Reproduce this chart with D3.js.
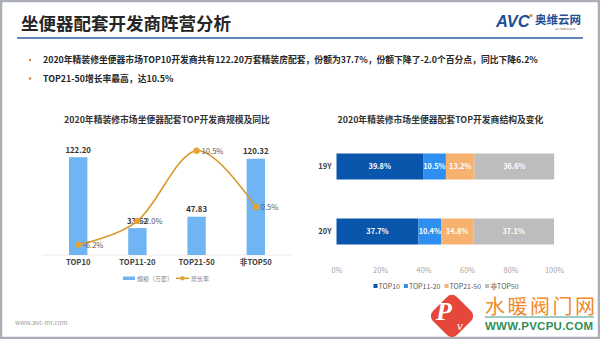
<!DOCTYPE html>
<html><head><meta charset="utf-8">
<script src="https://cdn.jsdelivr.net/npm/d3@7"></script>
<style>
body{margin:0;background:#fff}
svg{display:block;font-family:"Noto Sans CJK SC","Noto Sans",sans-serif}
</style>
</head><body><svg id="c" width="600" height="339"></svg>
<script>
// ---------- data ----------
const pageTitle = "坐便器配套开发商阵营分析";
const bullets = [
  "2020年精装修坐便器市场TOP10开发商共有122.20万套精装房配套，份额为37.7%，份额下降了-2.0个百分点，同比下降6.2%",
  "TOP21-50增长率最高，达10.5%"
];
const leftTitle = "2020年精装修市场坐便器配套TOP开发商规模及同比";
const categories = ["TOP10", "TOP11-20", "TOP21-50", "非TOP50"];
const scaleValues = [122.20, 33.62, 47.83, 120.32];
const scaleLabels = ["122.20", "33.62", "47.83", "120.32"];
const growthRates = [-6.2, -2.0, 10.5, 0.5];
const growthLabels = ["-6.2%", "-2.0%", "10.5%", "0.5%"];
const leftLegend = ["规模（万套）", "增长率"];
const rightTitle = "2020年精装修市场坐便器配套TOP开发商结构及变化";
const years = ["19Y", "20Y"];
const segments = ["TOP10", "TOP11-20", "TOP21-50", "非TOP50"];
const share19 = [39.8, 10.5, 13.2, 36.6];
const share20 = [37.7, 10.4, 14.8, 37.1];
const xTicks = [0, 20, 40, 60, 80, 100];
const footer = "www.avc-mr.com";

// ---------- setup ----------
const svg = d3.select("#c");
const CJK = '"Noto Sans CJK SC","Noto Sans",sans-serif';

// frame
svg.append("rect").attr("x", 1).attr("y", 1).attr("width", 598).attr("height", 337)
  .attr("fill", "#fff").attr("stroke", "#a9aeb7").attr("stroke-width", 2.5);

// page title
svg.append("text").attr("x", 21).attr("y", 30).text(pageTitle)
  .attr("font-size", 17.5).attr("font-weight", 700).attr("fill", "#262626");
svg.append("line").attr("x1", 17).attr("x2", 583).attr("y1", 38).attr("y2", 38)
  .attr("stroke", "#2b5f9c").attr("stroke-width", 1.6);

// AVC logo
svg.append("text").attr("x", 496).attr("y", 27).text("AVC")
  .attr("font-family", "Liberation Sans, Arial, sans-serif").attr("font-size", 16.5)
  .attr("font-weight", 700).attr("font-style", "italic").attr("fill", "#1e4f95");
svg.append("circle").attr("cx", 531).attr("cy", 15.5).attr("r", 1.6).attr("fill", "#f08a1c");
svg.append("text").attr("x", 535).attr("y", 24).text("奥维云网")
  .attr("font-size", 11.5).attr("font-weight", 700).attr("fill", "#1e4f95");
svg.append("text").attr("x", 555).attr("y", 30).text("ALL VIEW CLOUD")
  .attr("font-size", 2.6).attr("fill", "#555");

// bullets
bullets.forEach((b, i) => {
  const y = 63 + i * 18.5;
  svg.append("circle").attr("cx", 30).attr("cy", y - 3).attr("r", 1.2).attr("fill", "#e07a55");
  svg.append("text").attr("x", 43).attr("y", y).text(b)
    .attr("font-size", 8.8).attr("font-weight", 700).attr("fill", "#262626");
});

// ---------- left chart ----------
svg.append("text").attr("x", 167).attr("y", 123).attr("text-anchor", "middle").text(leftTitle)
  .attr("font-size", 8.8).attr("font-weight", 700).attr("fill", "#333");

const xL = d3.scaleBand().domain(categories).range([48.6, 285.4])
  .paddingInner(0.69).paddingOuter(0.345);
const yBar = d3.scaleLinear().domain([0, 140]).range([255, 143]);
const yLine = d3.scaleLinear().domain([-8, 12]).range([254.8, 142.2]);

svg.append("line").attr("x1", 42).attr("x2", 292).attr("y1", yBar(0)).attr("y2", yBar(0))
  .attr("stroke", "#ececec").attr("stroke-width", 1);

const gL = svg.append("g");
gL.selectAll("rect.bar").data(categories).join("rect").attr("class", "bar")
  .attr("x", d => xL(d)).attr("width", xL.bandwidth())
  .attr("y", (d, i) => yBar(scaleValues[i]))
  .attr("height", (d, i) => yBar(0) - yBar(scaleValues[i]))
  .attr("fill", "#6fb5f3");

gL.selectAll("text.val").data(categories).join("text").attr("class", "val")
  .attr("x", d => xL(d) + xL.bandwidth() / 2)
  .attr("y", (d, i) => yBar(scaleValues[i]) - 4.5)
  .attr("text-anchor", "middle").text((d, i) => scaleLabels[i])
  .attr("font-size", 7.8).attr("font-weight", 700).attr("fill", "#333");

// x axis labels
const axL = d3.axisBottom(xL).tickSize(0).tickPadding(5);
const axLg = svg.append("g").attr("transform", `translate(0,${yBar(0)})`).call(axL);
axLg.select(".domain").remove();
axLg.selectAll("text").attr("font-size", 7.6).attr("font-weight", 700).attr("fill", "#404040")
  .attr("font-family", CJK);

// growth line
const pts = categories.map((c, i) => [xL(c) + xL.bandwidth() / 2, yLine(growthRates[i])]);
const lineGen = d3.line().curve(d3.curveCardinal.tension(0));
gL.append("path").attr("d", lineGen(pts)).attr("fill", "none")
  .attr("stroke", "#d9992b").attr("stroke-width", 1.6);
gL.selectAll("circle.pt").data(pts).join("circle").attr("class", "pt")
  .attr("cx", d => d[0]).attr("cy", d => d[1]).attr("r", 3.2).attr("fill", "#e8a23a");
gL.selectAll("text.gr").data(pts).join("text").attr("class", "gr")
  .attr("x", d => d[0] + 5).attr("y", d => d[1] + 3)
  .text((d, i) => growthLabels[i])
  .attr("font-size", 7.6).attr("fill", "#595959");

// left legend
const lg = svg.append("g");
lg.append("rect").attr("x", 123).attr("y", 276.5).attr("width", 12).attr("height", 3.5).attr("fill", "#6fb5f3");
lg.append("text").attr("x", 137).attr("y", 280.6).text(leftLegend[0]).attr("font-size", 6).attr("fill", "#7f7f7f");
lg.append("line").attr("x1", 176).attr("x2", 189).attr("y1", 278.3).attr("y2", 278.3)
  .attr("stroke", "#d9992b").attr("stroke-width", 1.5);
lg.append("circle").attr("cx", 182.5).attr("cy", 278.3).attr("r", 2.2).attr("fill", "#e8a23a");
lg.append("text").attr("x", 191).attr("y", 280.6).text(leftLegend[1]).attr("font-size", 6).attr("fill", "#7f7f7f");

// ---------- right chart ----------
svg.append("text").attr("x", 440.5).attr("y", 123).attr("text-anchor", "middle").text(rightTitle)
  .attr("font-size", 8.8).attr("font-weight", 700).attr("fill", "#333");

const xR = d3.scaleLinear().domain([0, 100]).range([336.5, 554]);
const yR = d3.scaleBand().domain(years).range([134, 264]).paddingInner(0.6).paddingOuter(0.3);
const colors = d3.scaleOrdinal().domain(segments).range(["#0b56ad", "#2f8ff0", "#f6b26e", "#bdbdbd"]);

const shares = { "19Y": share19, "20Y": share20 };
const stackRows = years.map(y => {
  let acc = 0;
  return shares[y].map((v, i) => { const s = acc; acc += v; return { year: y, seg: segments[i], v, x0: s, x1: acc }; });
});
const gR = svg.append("g");
stackRows.forEach(row => {
  gR.selectAll(null).data(row).join("rect")
    .attr("x", d => xR(d.x0)).attr("width", d => xR(d.x1) - xR(d.x0))
    .attr("y", d => yR(d.year)).attr("height", yR.bandwidth())
    .attr("fill", d => colors(d.seg));
  gR.selectAll(null).data(row).join("text")
    .attr("x", d => (xR(d.x0) + xR(d.x1)) / 2).attr("y", d => yR(d.year) + yR.bandwidth() / 2 + 2.8)
    .attr("text-anchor", "middle").text(d => d.v.toFixed(1) + "%")
    .attr("font-size", 7.3).attr("font-weight", 700).attr("fill", "#fff");
});

const axY = d3.axisLeft(yR).tickSize(0).tickPadding(5);
const axYg = svg.append("g").attr("transform", `translate(${xR(0)},0)`).call(axY);
axYg.select(".domain").remove();
axYg.selectAll("text").attr("font-size", 7.5).attr("font-weight", 700).attr("fill", "#404040")
  .attr("font-family", CJK);

const axX = d3.axisBottom(xR).tickValues(xTicks).tickFormat(d => d + "%").tickSize(0).tickPadding(0);
const axXg = svg.append("g").attr("transform", `translate(0,268)`).call(axX);
axXg.select(".domain").remove();
axXg.selectAll("text").attr("font-size", 7.3).attr("fill", "#a6a6a6").attr("font-family", CJK);

// right legend
const rl = svg.append("g");
let lx = 373.5;
segments.forEach(s => {
  rl.append("rect").attr("x", lx).attr("y", 284).attr("width", 4).attr("height", 4).attr("fill", colors(s));
  const t = rl.append("text").attr("x", lx + 5).attr("y", 288.6).text(s)
    .attr("font-size", 7).attr("fill", "#595959");
  lx += 5 + t.node().getComputedTextLength() + 4;
});

// footer
svg.append("text").attr("x", 15).attr("y", 325).text(footer)
  .attr("font-size", 6.5).attr("fill", "#a0a0a0");

// PVCPU watermark
const wm = svg.append("g");
wm.append("rect").attr("x", -17).attr("y", -17).attr("width", 34).attr("height", 34).attr("rx", 7)
  .attr("fill", "#e5483b").attr("transform", "translate(452,316) rotate(45)");
wm.append("text").attr("x", 444).attr("y", 320).text("P")
  .attr("font-family", "Liberation Serif, serif").attr("font-style", "italic").attr("font-weight", 700)
  .attr("font-size", 26).attr("fill", "#fff").attr("text-anchor", "middle");
wm.append("text").attr("x", 460).attr("y", 330).text("v")
  .attr("font-family", "Liberation Serif, serif").attr("font-style", "italic")
  .attr("font-size", 13).attr("fill", "#fff").attr("text-anchor", "middle");
wm.append("text").attr("x", 485).attr("y", 314).text("水暖阀门网")
  .attr("font-size", 20).attr("fill", "#f08a2a").attr("textLength", 110);
wm.append("line").attr("x1", 485).attr("x2", 594).attr("y1", 317).attr("y2", 317)
  .attr("stroke", "#3c9a8a").attr("stroke-width", 1.2);
wm.append("text").attr("x", 485).attr("y", 330).text("WWW.PVCPU.COM")
  .attr("font-family", "Liberation Sans, Arial, sans-serif").attr("font-weight", 700)
  .attr("font-size", 11.5).attr("fill", "#2f8f5a").attr("textLength", 108);
</script>
</body></html>
